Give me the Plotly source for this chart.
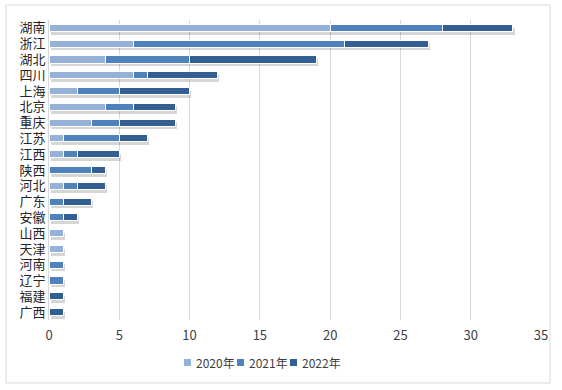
import plotly.graph_objects as go

provinces = ["湖南", "浙江", "湖北", "四川", "上海", "北京", "重庆", "江苏", "江西", "陕西",
             "河北", "广东", "安徽", "山西", "天津", "河南", "辽宁", "福建", "广西"]
y2020 = [20, 6, 4, 6, 2, 4, 3, 1, 1, 0, 1, 0, 0, 1, 1, 0, 0, 0, 0]
y2021 = [8, 15, 6, 1, 3, 2, 2, 4, 1, 3, 1, 1, 1, 0, 0, 1, 1, 0, 0]
y2022 = [5, 6, 9, 5, 5, 3, 4, 2, 3, 1, 2, 2, 1, 0, 0, 0, 0, 1, 1]
series_names = ["2020年", "2021年", "2022年"]
x_ticks = [0, 5, 10, 15, 20, 25, 30, 35]

colors = ["#94b2d8", "#4f81bd", "#335e92"]
idx = list(range(len(provinces)))
totals = [a + b + c for a, b, c in zip(y2020, y2021, y2022)]

L, R, T, B = 49, 21, 20, 70
PW, PH = 562 - L - R, 390 - T - B


def px(x):
    return (x - L) / PW


def py(y):
    return (390 - B - y) / PH


fig = go.Figure()
# shadow (bottom axis, shifted range)
fig.add_trace(go.Bar(
    y=idx, x=totals, base=0.12, orientation="h", yaxis="y",
    marker=dict(color="rgba(0,0,0,0.16)", line=dict(width=0)),
    showlegend=False, hoverinfo="skip", width=0.45,
))
for name, vals, col in zip(series_names, [y2020, y2021, y2022], colors):
    fig.add_trace(go.Bar(
        y=idx, x=vals, name=name, orientation="h", yaxis="y2",
        marker=dict(color=col, line=dict(color="white", width=1)),
        width=0.45, showlegend=False,
    ))

shapes = [dict(type="rect", xref="paper", yref="paper",
               x0=px(6), x1=px(550), y0=py(383), y1=py(5),
               line=dict(color="#d9d9d9", width=1), fillcolor="rgba(0,0,0,0)", layer="below")]
annotations = []
leg_x = [184, 237, 290]
for lx, name, col in zip(leg_x, series_names, colors):
    shapes.append(dict(type="rect", xref="paper", yref="paper",
                       x0=px(lx), x1=px(lx + 7), y0=py(366), y1=py(359),
                       line=dict(width=0), fillcolor=col))
    annotations.append(dict(xref="paper", yref="paper", x=px(lx + 10), y=py(362.5),
                            xanchor="left", yanchor="middle", text=name, showarrow=False,
                            font=dict(size=12, color="#404040")))

fig.update_layout(
    barmode="stack",
    width=562, height=390,
    margin=dict(l=L, r=R, t=T, b=B, autoexpand=False),
    paper_bgcolor="white", plot_bgcolor="white",
    font=dict(family="Noto Sans CJK SC, sans-serif", size=12, color="#404040"),
    showlegend=False,
    xaxis=dict(range=[0, 35], tickvals=x_ticks, showgrid=True, gridcolor="#d9d9d9",
               gridwidth=1, zeroline=False, showline=False, automargin=False,
               tickfont=dict(size=13, color="#404040"), ticks="", ticklabelstandoff=6),
    yaxis=dict(range=[18.3, -0.7], visible=False, showgrid=False, zeroline=False,
               automargin=False),
    yaxis2=dict(range=[18.5, -0.5], overlaying="y", tickvals=idx, ticktext=provinces,
                showgrid=False, zeroline=False, showline=True, linecolor="#d9d9d9",
                linewidth=1, side="left", automargin=False,
                tickfont=dict(size=13, color="#262626"), ticks=""),
    shapes=shapes,
    annotations=annotations,
)
fig.write_html("out.html", config={"displayModeBar": False},
               post_script="document.body.style.margin='0';")
